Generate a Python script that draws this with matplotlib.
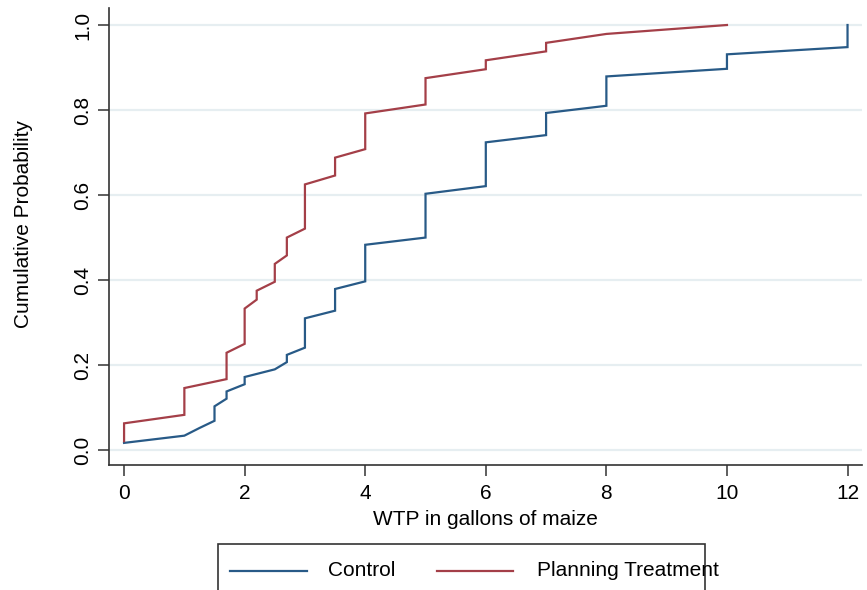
import matplotlib.pyplot as plt
from matplotlib.patches import Rectangle
from matplotlib.lines import Line2D

control_x = [0, 1, 1.25, 1.5, 1.5, 1.7, 1.7, 2, 2, 2.5, 2.7, 2.7, 3, 3,
             3.5, 3.5, 4, 4, 5, 5, 6, 6, 7, 7, 8, 8, 10, 10, 12, 12]
control_p = [0.017, 0.034, 0.052, 0.069, 0.103, 0.121, 0.138, 0.155, 0.172,
             0.190, 0.207, 0.224, 0.241, 0.310, 0.328, 0.379, 0.397, 0.483,
             0.500, 0.603, 0.621, 0.724, 0.741, 0.793, 0.810, 0.879, 0.897,
             0.931, 0.948, 1.000]

plan_x = [0, 0, 1, 1, 1.7, 1.7, 2, 2, 2.2, 2.2, 2.5, 2.5, 2.7, 2.7, 3, 3,
          3.5, 3.5, 4, 4, 5, 5, 6, 6, 7, 7, 8, 10]
plan_p = [0.021, 0.063, 0.083, 0.146, 0.167, 0.229, 0.250, 0.333, 0.354,
          0.375, 0.396, 0.438, 0.458, 0.500, 0.521, 0.625, 0.646, 0.688,
          0.708, 0.792, 0.813, 0.875, 0.896, 0.917, 0.938, 0.958, 0.979, 1.000]

xticks = [0, 2, 4, 6, 8, 10, 12]
yticks = [0.0, 0.2, 0.4, 0.6, 0.8, 1.0]
labels = ["Control", "Planning Treatment"]

blue = "#285a87"
red = "#a43f48"
grid_col = "#e6eef1"
fnt = ["Liberation Sans", "DejaVu Sans"]

plt.rcParams['font.family'] = fnt

fig = plt.figure(figsize=(8.67, 5.90), dpi=100)
ax = fig.add_axes([109/867, 125/590, 753/867, 457/590])

ax.plot(control_x, control_p, color=blue, lw=1.6, solid_joinstyle='miter')
ax.plot(plan_x, plan_p, color=red, lw=1.6, solid_joinstyle='miter')

## Limits, ticks, grid
ax.set_xlim(-0.25, 12.24)
ax.set_ylim(-0.035, 1.04)
ax.set_xticks(xticks)
ax.set_yticks(yticks)
ax.set_yticklabels(["%.1f" % v for v in yticks], rotation=90, va='center')
ax.tick_params(axis='both', direction='out', length=8, width=1.1,
               color='#333333', labelsize=15, pad=6)
ax.tick_params(axis='y', pad=4)
ax.yaxis.grid(True, color=grid_col, lw=1.6)
ax.set_axisbelow(True)

for s in ['top', 'right']:
    ax.spines[s].set_visible(False)
for s in ['left', 'bottom']:
    ax.spines[s].set_color('#333333')
    ax.spines[s].set_linewidth(1.2)

ax.set_xlabel("WTP in gallons of maize", fontsize=15, labelpad=5)
ax.set_ylabel("Cumulative Probability", fontsize=15)
ax.yaxis.set_label_coords(-0.113, 0.527)
ax.yaxis.label.set_va('center')

## Legend box (clipped by the bottom of the image, as in the original)
fig.patches.append(Rectangle((218/867, -0.05), 487/867, (590-544)/590 + 0.05,
                             transform=fig.transFigure, fill=False,
                             edgecolor='#333333', lw=1.2))
ly = (590-571)/590
fig.lines.append(Line2D([230/867, 307/867], [ly, ly], color=blue, lw=1.6,
                        transform=fig.transFigure))
fig.lines.append(Line2D([437/867, 513/867], [ly, ly], color=red, lw=1.6,
                        transform=fig.transFigure))
fig.text(328/867, ly, labels[0], fontsize=15, va='center')
fig.text(537/867, ly, labels[1], fontsize=15, va='center')

plt.savefig("out.png", dpi=100)
